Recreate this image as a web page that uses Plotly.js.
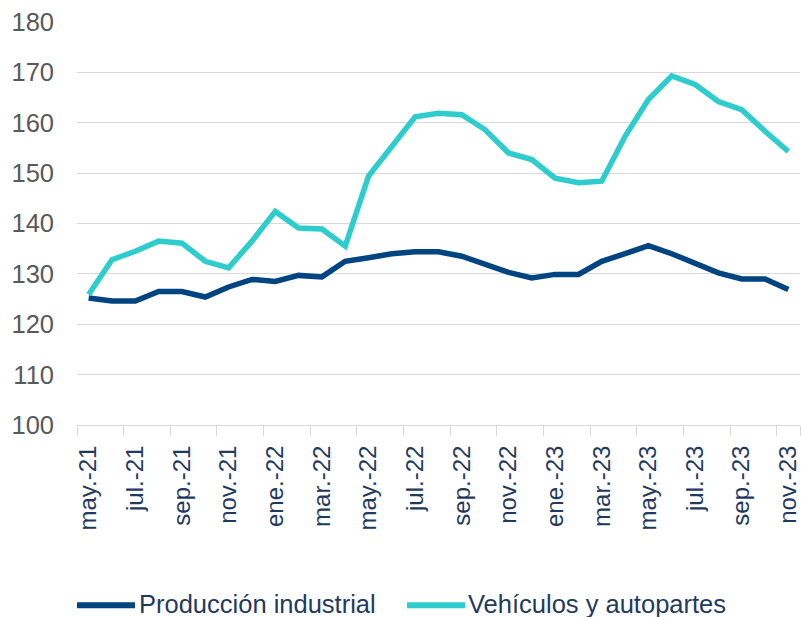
<!DOCTYPE html>
<html>
<head>
<meta charset="utf-8">
<script src="https://cdn.plot.ly/plotly-3.0.1.min.js"></script>
<style>html,body{margin:0;padding:0;background:#fff;}#chart{width:801px;height:617px;}</style>
</head>
<body>
<div id="chart"></div>
<script>
const months = ["may.-21","jun.-21","jul.-21","ago.-21","sep.-21","oct.-21","nov.-21","dic.-21",
  "ene.-22","feb.-22","mar.-22","abr.-22","may.-22","jun.-22","jul.-22","ago.-22","sep.-22","oct.-22","nov.-22","dic.-22",
  "ene.-23","feb.-23","mar.-23","abr.-23","may.-23","jun.-23","jul.-23","ago.-23","sep.-23","oct.-23","nov.-23"];
const produccionIndustrial = [125.2,124.6,124.6,126.5,126.5,125.4,127.4,128.9,128.5,129.7,129.4,132.5,
  133.2,134.0,134.4,134.4,133.5,131.8,130.3,129.2,129.9,129.9,132.5,134.0,135.6,134.0,132.0,130.2,129.0,129.0,126.9];
const vehiculosAutopartes = [125.9,132.8,134.5,136.5,136.1,132.5,131.2,136.5,142.4,139.1,138.9,135.5,
  149.4,155.3,161.2,161.9,161.6,158.6,154.0,152.7,149.0,148.1,148.4,157.3,164.6,169.3,167.6,164.2,162.6,158.3,154.3];
const seriesNames = ["Producción industrial","Vehículos y autopartes"];
const seriesColors = ["#004481","#2DCCCD"];
const tickLabels = months.filter((m,i)=>i%2===0);

const traces = [produccionIndustrial, vehiculosAutopartes].map((vals,k)=>({
  x: months, y: vals, type: "scatter", mode: "lines", name: seriesNames[k],
  line: {color: seriesColors[k], width: 5.5}, showlegend: false
}));

// Legend drawn by hand (swatch + label) in paper coordinates
const legendSwatchX = [[0.0, 0.0802], [0.4564, 0.5367]];
const legendTextX = [0.0844, 0.5394];
const legendY = -0.445;
const shapes = seriesNames.map((n,k)=>({
  type: "line", xref: "paper", yref: "paper",
  x0: legendSwatchX[k][0], x1: legendSwatchX[k][1], y0: legendY - 0.002, y1: legendY - 0.002,
  line: {color: seriesColors[k], width: 6}
}));
const annotations = seriesNames.map((n,k)=>({
  xref: "paper", yref: "paper", x: legendTextX[k], y: legendY, xanchor: "left", yanchor: "middle",
  text: n, showarrow: false, borderpad: 0, font: {size: 25.5, color: "#1F3A5F"}
}));

const layout = {
  width: 801, height: 617,
  margin: {l: 77, r: 1, t: 22, b: 192, autoexpand: false},
  paper_bgcolor: "#fff", plot_bgcolor: "#fff",
  font: {family: "Liberation Sans, Arial, sans-serif"},
  showlegend: false,
  shapes: shapes,
  annotations: annotations,
  xaxis: {type: "category", range: [-0.5, 30.5], tickmode: "array", tickvals: tickLabels, ticktext: tickLabels,
    tickson: "boundaries", ticks: "outside", ticklen: 10, tickcolor: "#d9d9d9", tickwidth: 1,
    showline: true, linecolor: "#d9d9d9", linewidth: 1, showgrid: false, zeroline: false,
    tickangle: -90, tickfont: {size: 24, color: "#1F3A5F"}, ticklabelstandoff: 10},
  yaxis: {range: [100, 180], dtick: 10, tick0: 100, showgrid: true, gridcolor: "#d9d9d9", gridwidth: 1,
    showline: false, zeroline: false, ticks: "", tickfont: {size: 25.5, color: "#595959"}, ticklabelstandoff: 22}
};
Plotly.newPlot("chart", traces, layout, {displayModeBar: false, staticPlot: true});
</script>
</body>
</html>
